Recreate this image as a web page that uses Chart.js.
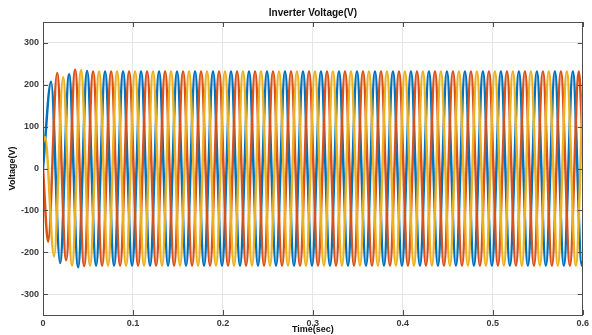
<!DOCTYPE html>
<html lang="en">
<head>
    <meta charset="UTF-8">
    <title>Inverter Voltage(V)</title>
    <script src="https://cdn.jsdelivr.net/npm/chart.js"></script>
    <style>
        body { margin: 0; background: #fff; }
        canvas { display: block; }
    </style>
</head>
<body>
    <canvas id="myChart" width="592" height="335"></canvas>
    <script>
        // tick labels
        const xTicks = [0, 0.1, 0.2, 0.3, 0.4, 0.5, 0.6];
        const yTicks = [-300, -200, -100, 0, 100, 200, 300];

        // peak / trough values, one per half cycle (50 Hz -> every 10 ms)
        const halfPeriod = 0.01;
        const blueFirstPeak = 0.009;
        const orangeFirstPeak = 0.0057;
        const yellowFirstPeak = 0.0023;

        const blueStart = 0, orangeStart = 0, yellowStart = 62;
        const blueEnd = -221, orangeEnd = 45, yellowEnd = 172;

        const bluePeaks = [
            207, -226, 225, -236, 233, -232, 232, -232, 232, -232,
            232, -232, 232, -232, 232, -232, 232, -232, 232, -232,
            232, -232, 232, -232, 232, -232, 232, -232, 232, -232,
            232, -232, 232, -232, 232, -232, 232, -232, 232, -232,
            232, -232, 232, -232, 232, -232, 232, -232, 232, -232,
            232, -232, 232, -232, 232, -232, 232, -232, 232, -232
        ];
        const orangePeaks = [
            -175, 228, -219, 236, -233, 232, -232, 232, -232, 232,
            -232, 232, -232, 232, -232, 232, -232, 232, -232, 232,
            -232, 232, -232, 232, -232, 232, -232, 232, -232, 232,
            -232, 232, -232, 232, -232, 232, -232, 232, -232, 232,
            -232, 232, -232, 232, -232, 232, -232, 232, -232, 232,
            -232, 232, -232, 232, -232, 232, -232, 232, -232, 232
        ];
        const yellowPeaks = [
            75, -210, 218, -232, 235, -232, 232, -232, 232, -232,
            232, -232, 232, -232, 232, -232, 232, -232, 232, -232,
            232, -232, 232, -232, 232, -232, 232, -232, 232, -232,
            232, -232, 232, -232, 232, -232, 232, -232, 232, -232,
            232, -232, 232, -232, 232, -232, 232, -232, 232, -232,
            232, -232, 232, -232, 232, -232, 232, -232, 232, -232
        ];

        function toPoints(start, peaks, firstPeak, end) {
            const pts = [{ x: 0, y: start }];
            peaks.forEach((v, k) => pts.push({ x: firstPeak + k * halfPeriod, y: v }));
            pts.push({ x: 0.6, y: end });
            return pts;
        }

        const frame = {
            id: 'frame',
            afterDraw(chart) {
                const { ctx, chartArea: a, scales: { x, y } } = chart;
                ctx.save();
                ctx.strokeStyle = '#4d4d4d';
                ctx.lineWidth = 1;
                ctx.beginPath();
                xTicks.forEach(v => {
                    const px = Math.round(x.getPixelForValue(v)) + 0.5;
                    ctx.moveTo(px, a.bottom); ctx.lineTo(px, a.bottom - 5);
                    ctx.moveTo(px, a.top); ctx.lineTo(px, a.top + 5);
                });
                yTicks.forEach(v => {
                    const py = Math.round(y.getPixelForValue(v)) + 0.5;
                    ctx.moveTo(a.left, py); ctx.lineTo(a.left + 5, py);
                    ctx.moveTo(a.right, py); ctx.lineTo(a.right - 5, py);
                });
                ctx.stroke();
                ctx.strokeRect(Math.round(a.left) + 0.5, Math.round(a.top) + 0.5,
                    Math.round(a.right - a.left) - 1, Math.round(a.bottom - a.top));
                ctx.fillStyle = '#111';
                ctx.font = 'bold 10px "Liberation Sans", Arial, sans-serif';
                ctx.textAlign = 'center';
                ctx.textBaseline = 'middle';
                ctx.fillText('Inverter Voltage(V)', (a.left + a.right) / 2, 13);
                ctx.restore();
            }
        };

        const line = (label, color, data, order) => ({
            label, data, order,
            borderColor: color,
            borderWidth: 2.5,
            pointRadius: 0,
            fill: false,
            cubicInterpolationMode: 'monotone'
        });

        const tickFont = { family: '"Liberation Sans", Arial, sans-serif', size: 9, weight: 'bold' };

        new Chart(document.getElementById('myChart'), {
            type: 'line',
            data: {
                datasets: [
                    line('Va', '#0072BD', toPoints(blueStart, bluePeaks, blueFirstPeak, blueEnd), 2),
                    line('Vb', '#D95319', toPoints(orangeStart, orangePeaks, orangeFirstPeak, orangeEnd), 1),
                    line('Vc', '#EDB120', toPoints(yellowStart, yellowPeaks, yellowFirstPeak, yellowEnd), 0)
                ]
            },
            options: {
                responsive: false,
                animation: false,
                layout: { padding: { top: 22, right: 6, left: 0, bottom: 0 } },
                plugins: { legend: { display: false }, tooltip: { enabled: false } },
                scales: {
                    x: {
                        type: 'linear',
                        min: 0, max: 0.6,
                        afterBuildTicks: s => { s.ticks = xTicks.map(v => ({ value: v })); },
                        afterFit: s => { s.height = 20; },
                        grid: { color: '#e6e6e6', drawTicks: false },
                        border: { display: false },
                        ticks: { font: tickFont, color: '#3a3a3a', padding: 3, maxRotation: 0,
                                 callback: v => String(v) },
                        title: { display: true, text: 'Time(sec)', color: '#111',
                                 font: { family: '"Liberation Sans", Arial, sans-serif', size: 9, weight: 'bold' },
                                 padding: 0 }
                    },
                    y: {
                        min: -350, max: 350,
                        afterBuildTicks: s => { s.ticks = yTicks.map(v => ({ value: v })); },
                        afterFit: s => { s.width = 43; },
                        grid: { color: '#e6e6e6', drawTicks: false },
                        border: { display: false },
                        ticks: { font: tickFont, color: '#3a3a3a', padding: 4 },
                        title: { display: true, text: 'Voltage(V)', color: '#111',
                                 font: { family: '"Liberation Sans", Arial, sans-serif', size: 9, weight: 'bold' },
                                 padding: { top: 7, bottom: 0 } }
                    }
                }
            },
            plugins: [frame]
        });
    </script>
</body>
</html>
